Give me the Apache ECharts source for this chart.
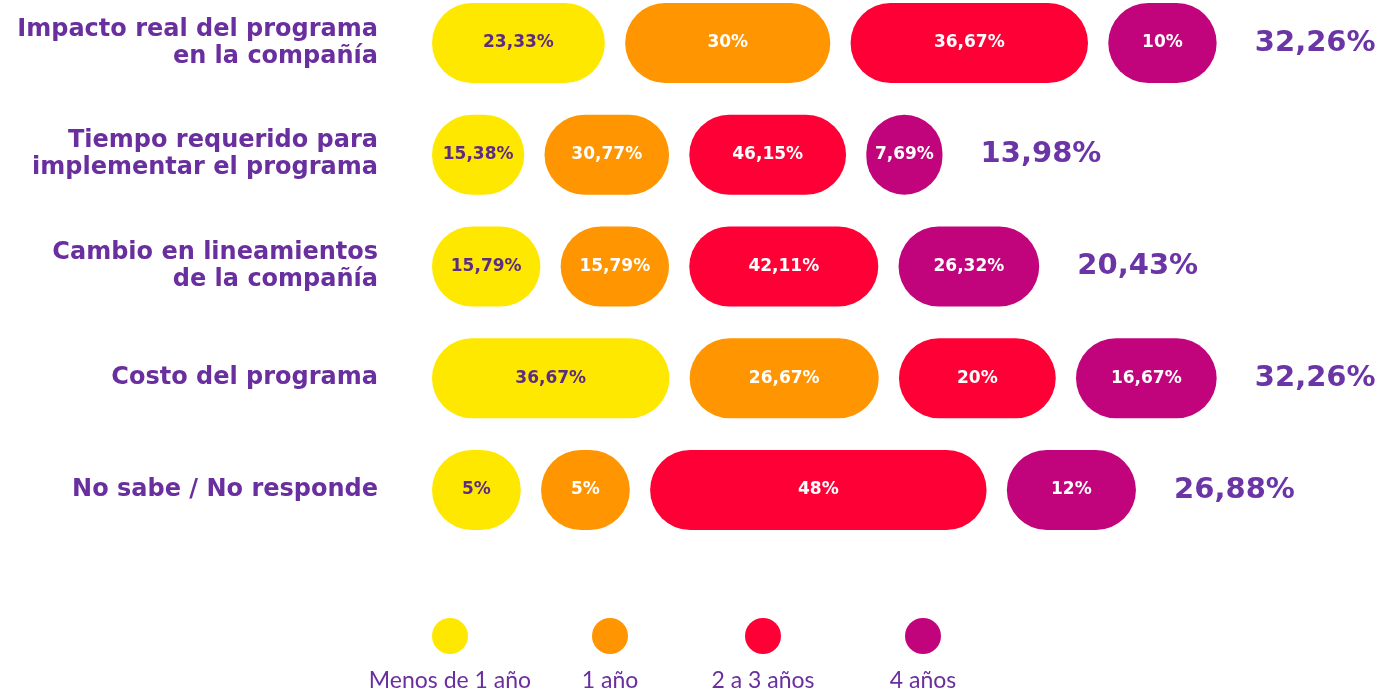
<!DOCTYPE html>
<html>
<head>
<meta charset="utf-8">
<script src="https://cdn.jsdelivr.net/npm/echarts@6/dist/echarts.min.js"></script>
<style>
    html, body { margin: 0; padding: 0; background: #fff; }
    #chart { width: 1385px; height: 691px; }
</style>
</head>
<body>
<div id="chart"></div>
<script>
// datos
const categorias = [
    'Impacto real del programa\nen la compañía',
    'Tiempo requerido para\nimplementar el programa',
    'Cambio en lineamientos\nde la compañía',
    'Costo del programa',
    'No sabe / No responde'
];
const nombres = ['Menos de 1 año', '1 año', '2 a 3 años', '4 años'];
const menosDe1Ano = [23.33, 15.38, 15.79, 36.67, 5];
const unAno = [30, 30.77, 15.79, 26.67, 5];
const dosATresAnos = [36.67, 46.15, 42.11, 20, 48];
const cuatroAnos = [10, 7.69, 26.32, 16.67, 12];
const totales = [32.26, 13.98, 20.43, 32.26, 26.88];

const colores = ['#ffe800', '#ff9500', '#ff0036', '#c2047c'];
const MORADO = '#6a2f9e';
const FUENTE = '"DejaVu Sans", sans-serif';
const FUENTE_LEYENDA = 'Lato, sans-serif';
const BASE = 4;      // largo mínimo de cada píldora (unidades del eje)
const GAP = 1.35;    // separación entre píldoras

let filas = [menosDe1Ano, unAno, dosATresAnos, cuatroAnos];
let sumas = categorias.map((c, r) => filas.reduce((s, arr) => s + arr[r], 0));

function largo(r, pct) {
    return BASE + pct / sumas[r] * totales[r];
}
function fmt(v) {
    return String(v).replace('.', ',') + '%';
}

let series = [];
filas.forEach(function (arr, i) {
    series.push({
        name: nombres[i],
        type: 'bar',
        stack: 'fila',
        barWidth: 80,
        itemStyle: { color: colores[i], borderRadius: 40 },
        label: {
            show: true,
            position: 'inside',
            color: i === 0 ? '#5b2c83' : '#fff',
            fontSize: 17,
            fontWeight: 'bold',
            fontFamily: FUENTE,
            formatter: p => fmt(arr[p.dataIndex])
        },
        data: arr.map((v, r) => largo(r, v))
    });
    if (i < filas.length - 1) {
        series.push({
            type: 'bar',
            stack: 'fila',
            silent: true,
            itemStyle: { color: 'transparent' },
            data: categorias.map(() => GAP)
        });
    }
});

// total de cada fila a la derecha
series.push({
    type: 'bar',
    stack: 'fila',
    silent: true,
    itemStyle: { color: 'transparent' },
    label: {
        show: true,
        position: 'right',
        distance: 38,
        color: '#6b35a6',
        fontSize: 29,
        fontWeight: 'bold',
        fontFamily: FUENTE,
        formatter: p => fmt(totales[p.dataIndex])
    },
    data: categorias.map(() => 0.01)
});

// el texto va centrado debajo del círculo, por eso el desplazamiento
let leyendaX = [350, 510, 663, 823];
let leyendas = nombres.map(function (n, i) {
    return {
        data: [n],
        left: leyendaX[i],
        top: 618,
        padding: 0,
        icon: 'circle',
        itemWidth: 36,
        itemHeight: 36,
        formatter: name => '{s|}\n{n|' + name + '}',
        textStyle: {
            padding: [0, 0, 0, -123],
            rich: {
                s: { height: 90 },
                n: { width: 200, align: 'center', fontSize: 23, color: MORADO, fontFamily: FUENTE_LEYENDA }
            }
        }
    };
});

let chart = echarts.init(document.getElementById('chart'));
chart.setOption({
    backgroundColor: '#fff',
    animation: false,
    legend: leyendas,
    grid: { left: 432, right: 53, top: 43, bottom: 201 },
    xAxis: { type: 'value', min: 0, max: 60, show: false },
    yAxis: {
        type: 'category',
        inverse: true,
        boundaryGap: false,
        data: categorias,
        axisLine: { show: false },
        axisTick: { show: false },
        splitLine: { show: false },
        axisLabel: {
            margin: 54,
            color: MORADO,
            fontSize: 24,
            fontWeight: 'bold',
            lineHeight: 27,
            fontFamily: FUENTE
        }
    },
    series: series
});
</script>
</body>
</html>
